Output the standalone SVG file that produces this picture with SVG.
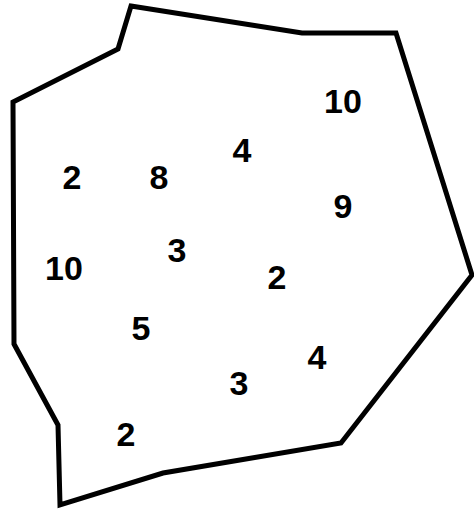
<svg xmlns="http://www.w3.org/2000/svg" width="474" height="510" viewBox="0 0 474 510">
<style>
.shape{fill:none;stroke:#000;stroke-width:5;stroke-linejoin:miter}
.n{font-family:"Liberation Sans",Arial,sans-serif;font-weight:bold;font-size:34px;text-anchor:middle;fill:#000}
</style>
<rect width="474" height="510" fill="#fff"/>
<g id="region">
<polygon class="shape" points="131,6 302,33 396,33 472,275 341,443 163,473 60,505 58,425 14,344 13,102 118,49"/>
</g>
<g id="labels">
<text class="n" x="343" y="113">10</text>
<text class="n" x="242" y="162">4</text>
<text class="n" x="72" y="189">2</text>
<text class="n" x="159" y="189">8</text>
<text class="n" x="343" y="218">9</text>
<text class="n" x="177" y="262">3</text>
<text class="n" x="64" y="280">10</text>
<text class="n" x="277" y="289">2</text>
<text class="n" x="141" y="340">5</text>
<text class="n" x="317" y="369">4</text>
<text class="n" x="239" y="395">3</text>
<text class="n" x="126" y="446">2</text>
</g>
</svg>
